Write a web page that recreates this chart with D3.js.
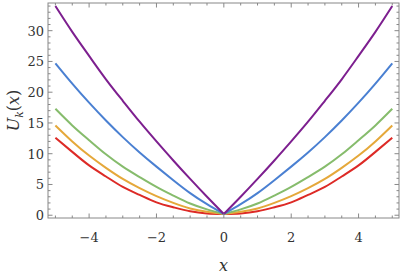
<!DOCTYPE html>
<html>
<head>
<meta charset="utf-8">
<script src="https://cdn.jsdelivr.net/npm/d3@7"></script>
<style>
  body { margin: 0; background: #fff; }
</style>
</head>
<body>
<script>
// x positions (half side), values mirrored to the left
var xs = [0, 0.5, 1, 1.5, 2, 2.5, 3, 3.5, 4, 4.5, 5];

// k = 1..5 (bottom to top)
var red    = [0.2, 0.3, 0.65, 1.3, 2.1, 3.3, 4.6, 6.3, 8.1, 10.3, 12.6];
var orange = [0.2, 0.55, 1.1, 2.0, 3.1, 4.4, 5.9, 7.7, 9.7, 12.0, 14.6];
var green  = [0.2, 0.95, 1.9, 3.2, 4.6, 6.2, 7.9, 9.9, 12.2, 14.6, 17.3];
var blue   = [0.2, 1.8, 3.6, 5.7, 7.9, 10.2, 12.7, 15.4, 18.3, 21.4, 24.7];
var purple = [0.2, 3.0, 5.9, 8.9, 12.0, 15.2, 18.6, 22.1, 25.9, 29.8, 34.0];

var xTicks = [-4, -2, 0, 2, 4];
var yTicks = [0, 5, 10, 15, 20, 25, 30];

var series = [
  {vals: red,    color: "#dd2a26"},
  {vals: orange, color: "#e5a83a"},
  {vals: green,  color: "#86bc6c"},
  {vals: blue,   color: "#4a80d2"},
  {vals: purple, color: "#7d1f8f"}
];

var serif = "'DejaVu Serif'";

var width = 402, height = 276;
var margin = {left: 48, right: 3, top: 3, bottom: 58};

var svg = d3.select("body").append("svg").attr("width", width).attr("height", height);

var x = d3.scaleLinear().domain([-5.22, 5.2]).range([margin.left, width - margin.right]);
var y = d3.scaleLinear().domain([-0.45, 34.5]).range([height - margin.bottom, margin.top]);

var x0 = x.range()[0], x1 = x.range()[1], y0 = y.range()[0], y1 = y.range()[1];

// curves: two halves so the corner at 0 stays sharp
var line = d3.line()
  .x(function(d){ return x(d[0]); })
  .y(function(d){ return y(d[1]); })
  .curve(d3.curveNatural);

var plot = svg.append("g");
series.forEach(function(s){
  var right = xs.map(function(v, i){ return [v, s.vals[i]]; });
  var left = xs.map(function(v, i){ return [-v, s.vals[i]]; }).reverse();
  [left, right].forEach(function(half){
    plot.append("path")
      .attr("d", line(half))
      .attr("fill", "none")
      .attr("stroke", s.color)
      .attr("stroke-width", 2);
  });
});

// frame
var frameColor = "#888";
svg.append("rect")
  .attr("x", x0).attr("y", y1)
  .attr("width", x1 - x0).attr("height", y0 - y1)
  .attr("fill", "none").attr("stroke", frameColor).attr("stroke-width", 1);

// ticks, inward, on all sides
var xMinor = d3.range(-5, 5.01, 0.5);
var yMinor = d3.range(0, 34.01, 1);
var ticks = svg.append("g").attr("stroke", frameColor).attr("stroke-width", 1);

xMinor.forEach(function(v){
  var major = xTicks.indexOf(v) >= 0 || v === 0;
  var len = major ? 4.5 : 2.5;
  ticks.append("line").attr("x1", x(v)).attr("x2", x(v)).attr("y1", y0).attr("y2", y0 - len);
  ticks.append("line").attr("x1", x(v)).attr("x2", x(v)).attr("y1", y1).attr("y2", y1 + len);
});
yMinor.forEach(function(v){
  var major = v % 5 === 0;
  var len = major ? 4.5 : 2.5;
  ticks.append("line").attr("x1", x0).attr("x2", x0 + len).attr("y1", y(v)).attr("y2", y(v));
  ticks.append("line").attr("x1", x1).attr("x2", x1 - len).attr("y1", y(v)).attr("y2", y(v));
});

// tick labels
svg.selectAll(".xl").data(xTicks).enter().append("text")
  .attr("x", function(d){ return x(d); })
  .attr("y", y0 + 24)
  .attr("text-anchor", "middle")
  .style("font-family", serif)
  .attr("font-size", 13)
  .attr("fill", "#333")
  .text(function(d){ return d < 0 ? "\u2212" + Math.abs(d) : d; });

svg.selectAll(".yl").data(yTicks).enter().append("text")
  .attr("x", x0 - 4)
  .attr("y", function(d){ return y(d) + 5; })
  .attr("text-anchor", "end")
  .style("font-family", serif)
  .attr("font-size", 13)
  .attr("fill", "#333")
  .text(function(d){ return d; });

// axis titles
svg.append("text")
  .attr("x", (x0 + x1) / 2)
  .attr("y", 271)
  .attr("text-anchor", "middle")
  .style("font-family", serif)
  .attr("font-size", 16)
  .attr("font-style", "italic")
  .attr("fill", "#333")
  .text("x");

var yt = svg.append("text")
  .attr("transform", "translate(19," + ((y0 + y1) / 2) + ") rotate(-90)")
  .attr("text-anchor", "middle")
  .style("font-family", serif)
  .attr("font-size", 16)
  .attr("fill", "#333");
yt.append("tspan").attr("font-style", "italic").text("U");
yt.append("tspan").attr("font-style", "italic").attr("font-size", 11).attr("dy", 4).text("k");
yt.append("tspan").attr("dy", -4).text("(");
yt.append("tspan").attr("font-style", "italic").text("x");
yt.append("tspan").text(")");
</script>
</body>
</html>
